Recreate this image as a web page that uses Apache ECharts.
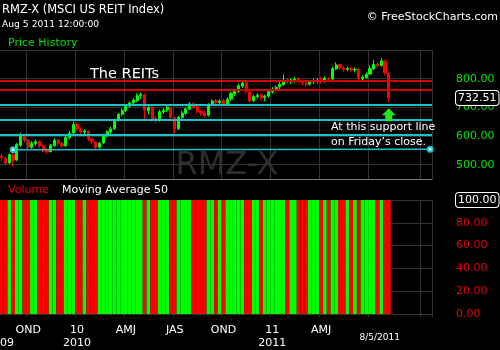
<!DOCTYPE html>
<html>
<head>
<meta charset="utf-8">
<script src="https://cdn.jsdelivr.net/npm/echarts@6/dist/echarts.min.js"></script>
<style>
html,body{margin:0;padding:0;background:#000;}
#chart{width:500px;height:350px;}
</style>
</head>
<body>
<div id="chart"></div>
<script>
const categories = [
'2009-08-14','2009-08-21','2009-08-28','2009-09-04','2009-09-11','2009-09-18','2009-09-25','2009-10-02','2009-10-09','2009-10-16',
'2009-10-23','2009-10-30','2009-11-06','2009-11-13','2009-11-20','2009-11-27','2009-12-04','2009-12-11','2009-12-18','2009-12-25',
'2010-01-01','2010-01-08','2010-01-15','2010-01-22','2010-01-29','2010-02-05','2010-02-12','2010-02-19','2010-02-26','2010-03-05',
'2010-03-12','2010-03-19','2010-03-26','2010-04-02','2010-04-09','2010-04-16','2010-04-23','2010-04-30','2010-05-07','2010-05-14',
'2010-05-21','2010-05-28','2010-06-04','2010-06-11','2010-06-18','2010-06-25','2010-07-02','2010-07-09','2010-07-16','2010-07-23',
'2010-07-30','2010-08-06','2010-08-13','2010-08-20','2010-08-27','2010-09-03','2010-09-10','2010-09-17','2010-09-24','2010-10-01',
'2010-10-08','2010-10-15','2010-10-22','2010-10-29','2010-11-05','2010-11-12','2010-11-19','2010-11-26','2010-12-03','2010-12-10',
'2010-12-17','2010-12-24','2010-12-31','2011-01-07','2011-01-14','2011-01-21','2011-01-28','2011-02-04','2011-02-11','2011-02-18',
'2011-02-25','2011-03-04','2011-03-11','2011-03-18','2011-03-25','2011-04-01','2011-04-08','2011-04-15','2011-04-22','2011-04-29',
'2011-05-06','2011-05-13','2011-05-20','2011-05-27','2011-06-03','2011-06-10','2011-06-17','2011-06-24','2011-07-01','2011-07-08',
'2011-07-15','2011-07-22','2011-07-29','2011-08-05','2011-08-12','2011-08-19','2011-08-26','2011-09-02','2011-09-09','2011-09-16',
'2011-09-23','2011-09-30','2011-10-07','2011-10-14','2011-10-21'
];
const openPrices = [530,522,506,534,517,568,602,584,561,574,
581,564,551,546,567,586,574,566,594,611,
641,624,614,617,589,579,561,576,601,614,
626,654,676,689,704,716,724,741,744,688,
701,661,656,684,691,699,664,626,664,679,
694,713,701,686,681,673,709,723,717,723,
711,729,747,756,774,786,754,723,737,743,
734,739,754,763,771,779,796,789,794,799,
794,784,781,789,793,796,789,801,799,834,
849,837,833,836,831,833,801,804,816,834,
851,846,861,818];
const closePrices = [525,505,535,515,570,600,585,560,575,580,
565,550,545,568,585,575,565,595,610,640,
625,615,618,590,580,560,575,600,615,625,
655,675,690,705,715,725,740,745,690,700,
660,655,685,690,700,665,625,665,680,695,
712,700,685,680,672,710,722,718,722,712,
728,748,755,775,785,755,722,738,742,735,
738,755,762,770,780,795,790,795,798,793,
785,780,790,792,795,790,802,798,835,848,
838,832,835,830,832,800,805,815,835,850,
845,862,820,732.51];
const lowPrices = [512,498,502,495,512,562,578,552,555,566,
558,544,538,542,562,564,558,562,588,606,
618,608,604,582,570,553,556,572,596,608,
620,650,668,684,698,708,718,730,655,676,
650,644,650,676,684,658,610,620,658,672,
690,694,678,670,664,668,704,710,705,706,
706,724,740,750,768,748,716,718,730,726,
722,734,748,756,764,774,782,782,786,785,
776,772,776,782,784,782,786,790,796,830,
830,826,826,824,822,795,794,800,812,830,
838,842,812,718];
const highPrices = [538,528,540,545,575,612,606,590,582,588,
584,570,558,572,592,590,580,600,618,650,
645,630,624,620,594,584,580,605,620,632,
660,680,696,712,720,732,748,752,748,712,
704,670,692,698,708,702,668,670,688,700,
718,716,706,692,688,714,728,730,728,730,
735,754,762,782,792,790,758,744,750,748,
744,760,770,776,788,815,802,800,806,804,
798,790,796,800,802,806,808,806,842,857,
852,844,842,840,840,836,812,822,845,865,
856,872,866,822];
const volumeValues = [100,100,100,100,100,100,100,100,100,100,
100,100,100,100,100,100,100,100,100,100,
100,100,100,100,100,100,100,100,100,100,
100,100,100,100,100,100,100,100,100,100,
100,100,100,100,100,100,100,100,100,100,
100,100,100,100,100,100,100,100,100,100,
100,100,100,100,100,100,100,100,100,100,
100,100,100,100,100,100,100,100,100,100,
100,100,100,100,100,100,100,100,100,100,
100,100,100,100,100,100,100,100,100,100,
100,100,100,100];
const quarterTickDates = ['2009-10-02','2010-01-01','2010-04-02','2010-07-02','2010-10-01','2010-12-31','2011-04-01','2011-07-01','2011-10-07'];
const quarterTickLabels = ['OND','10','AMJ','JAS','OND','11','AMJ','',''];
const yearTickLabels = ['','2010','','','','2011','','',''];
const firstYearLabel = '2009';
const lastDate = '2011-08-05';
const lastDateLabel = '8/5/2011';
const lastPrice = 732.51;
const resistanceLevels = [792, 761];
const supportLevels = [710, 656, 603];
const trendStart = ['2009-09-04', 552];
const trendEnd = ['2011-10-21', 554];
const arrowPoint = ['2011-08-05', 674];

const UP = '#00ff00', DOWN = '#ff0000';
const FONT = 'DejaVu Sans';
const GRIDC = '#333333';

const candleData = openPrices.map((o, i) => [o, closePrices[i], lowPrices[i], highPrices[i]]);
const volData = volumeValues.map((v, i) => ({
  value: v,
  itemStyle: { color: closePrices[i] >= openPrices[i] ? UP : DOWN }
}));

const isQuarter = (idx, val) => quarterTickDates.indexOf(val) >= 0;

const markLines = [];
resistanceLevels.forEach(v => markLines.push({ yAxis: v, lineStyle: { color: '#d00000', width: 2 } }));
supportLevels.forEach(v => markLines.push({ yAxis: v, lineStyle: { color: '#18c4cc', width: 2 } }));
markLines.push([
  { coord: trendStart, symbol: 'emptyCircle', symbolSize: 5, lineStyle: { color: '#18c4cc', width: 1.5 } },
  { coord: trendEnd, symbol: 'emptyCircle', symbolSize: 5 }
]);
markLines.push({
  yAxis: lastPrice,
  lineStyle: { color: 'rgba(0,0,0,0)', width: 0 },
  label: {
    show: true, position: 'end', distance: 24,
    formatter: () => lastPrice.toFixed(2),
    color: '#ffffff', fontFamily: 'DejaVu Sans', fontSize: 11,
    backgroundColor: '#000', borderColor: '#ffffff', borderWidth: 1, borderRadius: 3,
    padding: [2, 2, 1, 2]
  }
});

const chart = echarts.init(document.getElementById('chart'), null, { renderer: 'canvas' });
const txt = (text, x, y, size, color, align) => ({
  type: 'text', x: x, y: y, z: 10,
  style: { text: text, fill: color, font: size + 'px "' + FONT + '"', align: align || 'left', verticalAlign: 'middle' }
});

chart.setOption({
  backgroundColor: '#000000',
  animation: false,
  textStyle: { fontFamily: FONT },
  grid: [
    { left: 0, right: 68, top: 50, height: 129, outerBoundsMode: 'none' },
    { left: 0, right: 68, top: 200, height: 114, outerBoundsMode: 'none' }
  ],
  xAxis: [
    {
      type: 'category', gridIndex: 0, data: categories, boundaryGap: true,
      axisLine: { show: true, lineStyle: { color: '#777777' } },
      axisTick: { show: false }, axisLabel: { show: false },
      splitLine: { show: true, interval: isQuarter, lineStyle: { color: GRIDC } }
    },
    {
      type: 'category', gridIndex: 1, data: categories, boundaryGap: true,
      axisLine: { show: true, lineStyle: { color: GRIDC } },
      axisTick: { show: true, interval: isQuarter, length: 3, lineStyle: { color: GRIDC } },
      splitLine: { show: true, interval: isQuarter, lineStyle: { color: GRIDC } },
      axisLabel: {
        show: true, margin: 9.5, color: '#ffffff', fontSize: 11, lineHeight: 13, fontFamily: FONT,
        interval: (idx, val) => val === lastDate || (isQuarter(idx, val) && quarterTickLabels[quarterTickDates.indexOf(val)] !== ''),
        formatter: (val) => {
          if (val === lastDate) return '{d|' + lastDateLabel + '}';
          const q = quarterTickDates.indexOf(val);
          if (q < 0) return '';
          return yearTickLabels[q] ? quarterTickLabels[q] + '\n' + yearTickLabels[q] : quarterTickLabels[q];
        },
        rich: {
          d: { fontSize: 9, color: '#ffffff', fontFamily: FONT, padding: [16, 18, 0, 0] }
        }
      }
    }
  ],
  yAxis: [
    {
      type: 'value', gridIndex: 0, position: 'right', min: 450, max: 900, splitNumber: 4,
      axisLine: { show: false }, axisTick: { show: false },
      splitLine: { show: true, lineStyle: { color: GRIDC } },
      axisLabel: {
        margin: 24, color: '#00e600', fontSize: 11, fontFamily: FONT,
        formatter: v => (v % 100 === 0 && v < 900) ? v.toFixed(2) : ''
      }
    },
    {
      type: 'value', gridIndex: 1, position: 'right', min: 0, max: 100, interval: 20,
      axisLine: { show: false }, axisTick: { show: false },
      splitLine: { show: true, lineStyle: { color: GRIDC } },
      axisLabel: {
        margin: 24, color: '#e80000', fontSize: 11, fontFamily: FONT,
        formatter: v => v === 100 ? '{box|' + v.toFixed(2) + '}' : v.toFixed(2),
        rich: {
          box: { color: '#ffffff', fontSize: 11, fontFamily: FONT, borderColor: '#ffffff', borderWidth: 1, borderRadius: 3, padding: [2, 2, 1, 2], backgroundColor: '#000' }
        }
      }
    }
  ],
  series: [
    {
      type: 'candlestick', xAxisIndex: 0, yAxisIndex: 0, data: candleData, barWidth: 2.6,
      itemStyle: { color: UP, color0: DOWN, borderColor: UP, borderColor0: DOWN, borderWidth: 1 },
      markLine: { silent: true, symbol: ['none', 'none'], label: { show: false }, lineStyle: { type: 'solid' }, data: markLines },
      markPoint: {
        silent: true,
        data: [{
          coord: arrowPoint,
          symbol: 'path://M7,0 L14,7 L10.5,7 L10.5,13 L3.5,13 L3.5,7 L0,7 Z',
          symbolSize: [14, 13],
          itemStyle: { color: '#22e622' },
          label: { show: false }
        }]
      }
    },
    {
      type: 'bar', xAxisIndex: 1, yAxisIndex: 1, data: volData, barCategoryGap: '0%'
    }
  ],
  graphic: [
    { type: 'text', x: 227, y: 166, z: -1, silent: true,
      style: { text: 'RMZ-X', fill: '#2e2e2e', font: '32px "' + FONT + '"', align: 'center', verticalAlign: 'middle' } },
    txt('RMZ-X (MSCI US REIT Index)', 2, 10, 11.5, '#ffffff'),
    txt('Aug 5 2011 12:00:00', 2, 25, 9.2, '#ffffff'),
    txt('Price History', 8, 43, 11, '#00dd00'),
    txt('\u00a9 FreeStockCharts.com', 498, 17, 11, '#ffffff', 'right'),
    txt('The REITs', 90, 74, 14.5, '#ffffff'),
    txt('At this support line', 331, 127, 11, '#ffffff'),
    txt('on Friday\u2019s close.', 331, 142, 11, '#ffffff'),
    txt('Volume', 8, 190, 11, '#e80000'),
    txt('Moving Average 50', 62, 190, 11, '#ffffff'),
    txt(firstYearLabel, 14, 343, 11, '#ffffff', 'right')
  ]
});
</script>
</body>
</html>
